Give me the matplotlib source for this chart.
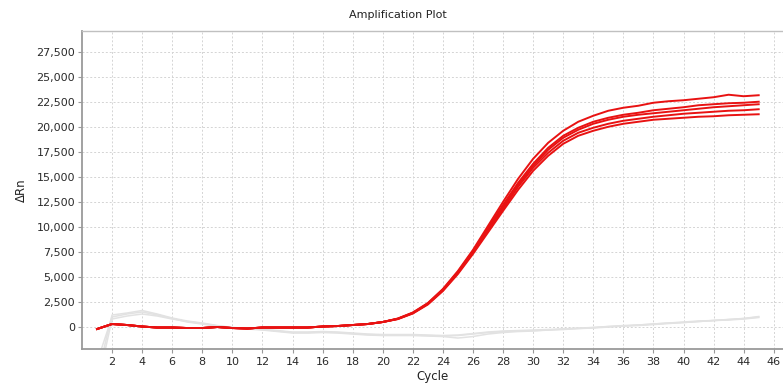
import matplotlib.pyplot as plt
import numpy as np

cycles = list(range(1, 46))

# baseline shared by the positive wells (cycles 1-20)
base = [-200, 300, 200, 50, -50, -50, -100, -100, 0, -100,
        -150, -50, -50, -50, -50, 50, 100, 200, 300, 500]

red_a = base + [850, 1450, 2400, 3800, 5600, 7700, 10100, 12500, 14800, 16800,
                18400, 19600, 20500, 21100, 21600, 21900, 22100, 22400, 22550, 22650,
                22800, 22950, 23200, 23050, 23150]
red_b = base + [830, 1420, 2350, 3750, 5500, 7600, 9900, 12200, 14400, 16300,
                17900, 19100, 19900, 20500, 20900, 21200, 21400, 21650, 21800, 21950,
                22150, 22250, 22350, 22400, 22500]
red_c = base + [820, 1400, 2320, 3700, 5450, 7500, 9750, 12000, 14200, 16100,
                17700, 18900, 19700, 20300, 20700, 21000, 21200, 21350, 21500, 21650,
                21800, 21950, 22050, 22150, 22250]
red_d = base + [800, 1380, 2300, 3650, 5400, 7400, 9600, 11800, 14000, 15900,
                17400, 18600, 19400, 19900, 20300, 20600, 20800, 21000, 21150, 21300,
                21400, 21500, 21600, 21650, 21750]
red_e = base + [790, 1350, 2250, 3600, 5300, 7300, 9450, 11600, 13700, 15600,
                17100, 18300, 19100, 19600, 20000, 20300, 20500, 20700, 20800, 20900,
                21000, 21050, 21150, 21200, 21250]
red_curves = [red_a, red_b, red_c, red_d, red_e]

# negative controls (light grey)
gray_a = [-5000, 1200, 1400, 1650, 1300, 900, 600, 400, 150, -50,
          -150, -250, -400, -550, -550, -500, -550, -650, -750, -800,
          -800, -800, -850, -900, -850, -700, -550, -450, -400, -350,
          -300, -200, -150, -50, 50, 100, 200, 300, 400, 450,
          550, 650, 750, 850, 1050]
gray_b = [-6000, 800, 1100, 1300, 1100, 800, 550, 350, 100, -100,
          -200, -300, -450, -600, -600, -550, -600, -700, -800, -850,
          -850, -850, -900, -950, -1100, -950, -700, -550, -450, -400,
          -300, -250, -150, -100, 0, 100, 150, 250, 350, 450,
          550, 650, 700, 800, 950]
gray_c = [-3500, 1000, 1300, 1500, 1200, 850, 500, 300, 100, -50,
          -150, -250, -350, -500, -500, -450, -500, -600, -700, -750,
          -750, -750, -800, -850, -800, -650, -500, -400, -350, -300,
          -250, -200, -100, -50, 50, 150, 200, 300, 400, 500,
          600, 650, 750, 850, 1000]
gray_curves = [gray_a, gray_b, gray_c]

x_ticks = list(range(2, 47, 2))
y_ticks = list(range(0, 27501, 2500))

plt.rcParams['font.family'] = 'DejaVu Sans'
fig = plt.figure(figsize=(7.83, 3.9), dpi=100)
ax = fig.add_axes([0.1047, 0.105, 0.895, 0.8154])

for g in gray_curves:
    ax.plot(cycles, g, color='#e2e2e2', lw=1.1, zorder=2)
for r in red_curves:
    ax.plot(cycles, r, color='#e81212', lw=1.4, zorder=3)

ax.set_xlim(0, 46.6)
ax.set_ylim(-2200, 29560)
ax.set_xticks(x_ticks)
ax.set_yticks(y_ticks)
ax.set_yticklabels([f'{v:,}' for v in y_ticks])
ax.grid(True, color='#d4d4d4', linestyle=(0, (2, 2)), lw=0.7)
ax.set_axisbelow(True)

for s in ['left', 'bottom']:
    ax.spines[s].set_color('#9a9a9a')
    ax.spines[s].set_linewidth(1.3)
ax.spines['top'].set_color('#c0c0c0')
ax.spines['top'].set_linewidth(1.0)
ax.spines['right'].set_visible(False)
ax.tick_params(axis='both', colors='#9a9a9a', labelcolor='#2a2a2a',
               labelsize=8, length=3, width=0.8)
ax.tick_params(axis='x', pad=3)
ax.tick_params(axis='y', pad=2)

ax.set_xlabel('Cycle', fontsize=8.5, color='#222222', labelpad=2)
ax.set_ylabel('ΔRn', fontsize=8.5, color='#222222', labelpad=6)
fig.text(0.508, 0.962, 'Amplification Plot', ha='center', va='center',
         fontsize=8, color='#222222')

fig.savefig('out.png', dpi=100)
